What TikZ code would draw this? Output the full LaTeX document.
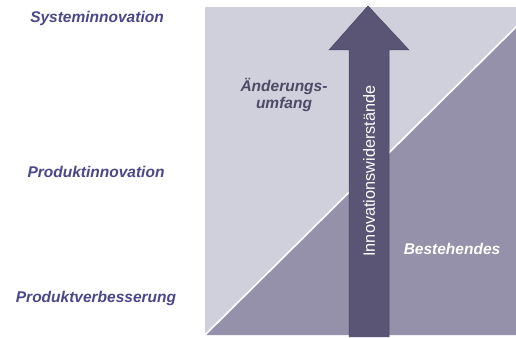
\documentclass[tikz,border=0pt]{standalone}
\usepackage{fontspec}
\setmainfont{Liberation Sans}
\begin{document}
\begin{tikzpicture}[x=1pt,y=1pt,
  leftlabel/.style={font=\fontsize{15.5}{17}\selectfont\bfseries\itshape, text=labelblue, inner sep=0pt},
  innerlabel/.style={font=\fontsize{15.5}{17}\selectfont\bfseries\itshape, inner sep=0pt, align=center}]
\definecolor{labelblue}{HTML}{4A4888}
\definecolor{lightreg}{HTML}{D0D0DC}
\definecolor{darkreg}{HTML}{9591AA}
\definecolor{arrowcol}{HTML}{5A5475}
\definecolor{darktext}{HTML}{4D4A66}
\useasboundingbox (0,0) rectangle (516,337);
\fill[white] (0,0) rectangle (516,337);
% square
\coordinate (bl) at (205,2);
\coordinate (tr) at (516,330);
\coordinate (dg) at (516,310);
\fill[lightreg] (bl) rectangle (tr);
\fill[darkreg] (bl) -- (dg) -- (516,2) -- cycle;
\draw[white, line width=1.6pt] (bl) -- (dg);
% arrow
\fill[arrowcol] (349,0) -- (349,287) -- (329,287) -- (368,331) -- (409,287) -- (389,287) -- (389,0) -- cycle;
\draw[arrowcol!80!black, line width=0.5pt] (349,0) -- (349,287) -- (329,287) -- (368,331) -- (409,287) -- (389,287) -- (389,0);
\node[rotate=90, text=white, font=\fontsize{16.3}{18}\selectfont, inner sep=0pt] (iw) at (369,166) {Innovationswiderstände};
% labels
\node[leftlabel] (sys) at (97,319) {Systeminnovation};
\node[leftlabel] (prod) at (96,165) {Produktinnovation};
\node[leftlabel] (verb) at (96,39) {Produktverbesserung};
\node[innerlabel, text=darktext] (aend) at (284,242) {Änderungs-\\umfang};
\node[innerlabel, text=white] (best) at (452,88) {Bestehendes};
\end{tikzpicture}
\end{document}
